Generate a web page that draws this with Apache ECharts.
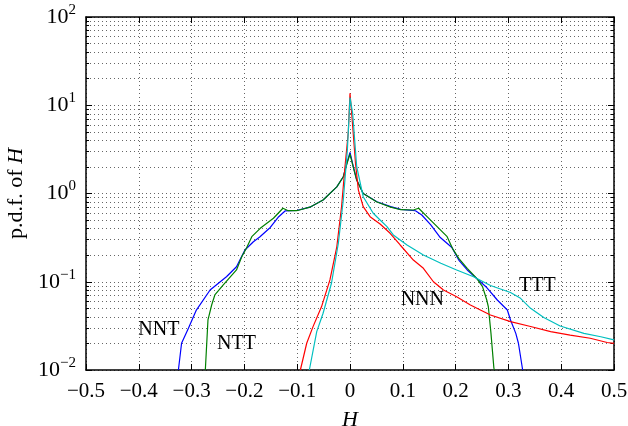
<!DOCTYPE html>
<html><head><meta charset="utf-8">
<script src="https://cdn.jsdelivr.net/npm/echarts@6/dist/echarts.min.js"></script>
<style>html,body{margin:0;padding:0;background:#fff}#c{width:628px;height:426px}</style>
</head><body><div id="c"></div>
<script>
// x tick values
const xTicks = [-0.5,-0.4,-0.3,-0.2,-0.1,0,0.1,0.2,0.3,0.4,0.5];
// NNN (red)
const nnnH = [-0.094,-0.082,-0.070,-0.054,-0.038,-0.025,-0.016,-0.0095,-0.0032,0,0.0032,0.0104,0.0158,0.025,0.038,0.057,0.076,0.095,0.120,0.139,0.158,0.177,0.202,0.228,0.266,0.304,0.342,0.380,0.417,0.455,0.487,0.50];
const nnnP = [0.01,0.0201,0.031,0.052,0.105,0.249,0.708,2.01,4.98,13.7,8.1,2.2,1.10,0.71,0.546,0.451,0.354,0.261,0.176,0.142,0.100,0.0806,0.0677,0.0545,0.042,0.0353,0.0311,0.0272,0.0249,0.0229,0.0205,0.0200];
// TTT (cyan)
const tttH = [-0.077,-0.063,-0.051,-0.035,-0.022,-0.0127,-0.005,0,0.005,0.0127,0.025,0.044,0.057,0.070,0.082,0.108,0.139,0.172,0.202,0.234,0.266,0.304,0.323,0.342,0.367,0.398,0.443,0.475,0.50];
const tttP = [0.01,0.0272,0.044,0.0968,0.275,0.844,3.11,12.2,8.1,2.01,0.92,0.597,0.501,0.421,0.339,0.261,0.201,0.162,0.136,0.114,0.0907,0.0755,0.0649,0.050,0.0393,0.0315,0.026,0.0238,0.0219];
// NNT (blue)
const nntH = [-0.325,-0.319,-0.306,-0.291,-0.265,-0.234,-0.215,-0.199,-0.183,-0.171,-0.151,-0.135,-0.123,-0.101,-0.076,-0.051,-0.025,-0.0127,-0.006,0,0.0063,0.0127,0.025,0.051,0.077,0.096,0.124,0.136,0.153,0.171,0.193,0.206,0.222,0.240,0.259,0.279,0.298,0.304,0.314,0.319,0.327];
const nntP = [0.01,0.0201,0.0297,0.0478,0.0806,0.114,0.148,0.229,0.284,0.321,0.412,0.546,0.634,0.642,0.70,0.844,1.19,1.55,2.2,2.92,2.01,1.42,1.0,0.807,0.709,0.662,0.638,0.571,0.44,0.317,0.244,0.176,0.136,0.109,0.086,0.0621,0.0478,0.0369,0.026,0.0201,0.01];
// NTT (green)
const nttH = [-0.274,-0.269,-0.262,-0.256,-0.240,-0.215,-0.205,-0.196,-0.186,-0.170,-0.145,-0.127,-0.117,-0.101,-0.076,-0.051,-0.025,-0.0127,-0.006,0,0.0063,0.0127,0.025,0.051,0.077,0.096,0.120,0.130,0.146,0.165,0.184,0.194,0.206,0.222,0.240,0.251,0.259,0.262,0.267,0.2725,0.274];
const nttP = [0.01,0.0369,0.0545,0.0708,0.092,0.136,0.192,0.241,0.324,0.403,0.524,0.68,0.638,0.638,0.70,0.844,1.19,1.55,2.15,2.8,1.98,1.42,1.0,0.80,0.70,0.655,0.65,0.68,0.546,0.421,0.324,0.239,0.184,0.142,0.109,0.0879,0.0621,0.0521,0.026,0.0105,0.01];
// curve labels
const labelNames = ['NNT','NTT','NNN','TTT'];
const labelH = [-0.362,-0.215,0.137,0.355];
const labelP = [0.0284,0.0197,0.0621,0.0895];

const FONT = '"Liberation Serif","Times New Roman",serif';
const zip = (a,b)=>a.map((v,i)=>[v,b[i]]);
function fmtX(v){ const r=Math.round(v*10)/10; if(r===0) return '0'; return r<0?'\u2212'+(-r).toFixed(1):r.toFixed(1);}
function fmtY(v){ const e=Math.round(Math.log10(v)); return '{b|10}{s|'+(e<0?'\u2212'+(-e):e)+'}';}

const axisLineStyle = {color:'#000', width:1.5};
const grid = {left:86,right:14,top:17,bottom:56,outerBoundsMode:'none',containLabel:false};
const chart = echarts.init(document.getElementById('c'),null,{renderer:'canvas'});
const lineSeries = (name,h,p,color)=>({name,type:'line',data:zip(h,p),showSymbol:false,symbol:'none',
  lineStyle:{color,width:1.2},itemStyle:{color},clip:true,animation:false,z:3});
chart.setOption({
  animation:false,
  backgroundColor:'#fff',
  grid,
  xAxis:[
    {type:'value',min:-0.5,max:0.5,interval:0.1,position:'bottom',
     axisLine:{onZero:false,lineStyle:axisLineStyle},axisTick:{inside:true,length:6,lineStyle:{color:'#000',width:1}},
     axisLabel:{formatter:fmtX,color:'#000',fontFamily:FONT,fontSize:21,margin:11},
     splitLine:{show:true,lineStyle:{color:'#666',type:[1,3],width:1}},
     name:'H',nameLocation:'middle',nameGap:39,
     nameTextStyle:{fontFamily:FONT,fontStyle:'italic',fontSize:22,color:'#000'}},
    {type:'value',min:-0.5,max:0.5,interval:0.1,position:'top',
     axisLine:{onZero:false,lineStyle:axisLineStyle},axisTick:{inside:true,length:6,lineStyle:{color:'#000',width:1}},
     axisLabel:{show:false},splitLine:{show:false}}
  ],
  yAxis:[
    {type:'log',logBase:10,min:0.01,max:100,position:'left',
     axisLine:{onZero:false,lineStyle:axisLineStyle},axisTick:{inside:true,length:6,lineStyle:{color:'#000',width:1}},
     minorTick:{show:true,splitNumber:9,length:3,lineStyle:{color:'#000',width:1}},
     minorSplitLine:{show:true,lineStyle:{color:'#666',type:[1,3],width:1}},
     splitLine:{show:true,lineStyle:{color:'#666',type:[1,3],width:1}},
     axisLabel:{formatter:fmtY,margin:10,color:'#000',
       rich:{b:{fontFamily:FONT,fontSize:22,color:'#000'},s:{fontFamily:FONT,fontSize:15,color:'#000',padding:[0,0,14,0]}}},
     name:'{n|p.d.f. of }{i|H}',nameLocation:'middle',nameGap:54,nameRotate:90,
     nameTextStyle:{rich:{n:{fontFamily:FONT,fontSize:22,color:'#000'},i:{fontFamily:FONT,fontSize:22,fontStyle:'italic',color:'#000'}}}},
    {type:'log',logBase:10,min:0.01,max:100,position:'right',
     axisLine:{onZero:false,lineStyle:axisLineStyle},axisTick:{inside:true,length:6,lineStyle:{color:'#000',width:1}},
     minorTick:{show:true,splitNumber:9,length:3,lineStyle:{color:'#000',width:1}},
     axisLabel:{show:false},splitLine:{show:false}}
  ],
  series:[
    lineSeries('NNT',nntH,nntP,'#0000ff'),
    lineSeries('NTT',nttH,nttP,'#008000'),
    lineSeries('NNN',nnnH,nnnP,'#ff0000'),
    lineSeries('TTT',tttH,tttP,'#00bfbf')
  ]
});
// curve annotations placed through the chart's own coordinate system
chart.setOption({
  graphic: labelNames.map((n,i)=>{
    const pt = chart.convertToPixel({xAxisIndex:0,yAxisIndex:0},[labelH[i],labelP[i]]);
    return {type:'text',x:pt[0],y:pt[1],z:10,
      style:{text:n,fill:'#000',font:'20px '+FONT,align:'center',verticalAlign:'middle'}};
  })
});
</script></body></html>
